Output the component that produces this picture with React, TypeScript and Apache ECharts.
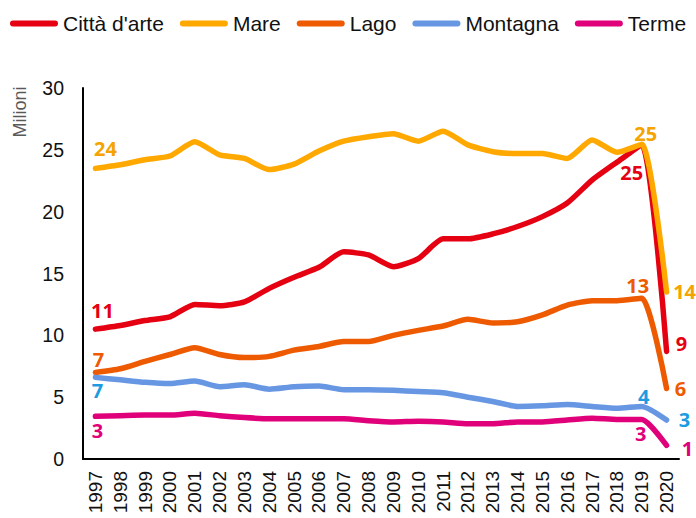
import React, { useEffect, useRef } from "react";
import * as echarts from "echarts";

const years = ["1997","1998","1999","2000","2001","2002","2003","2004","2005","2006","2007","2008","2009","2010","2011","2012","2013","2014","2015","2016","2017","2018","2019","2020"];

const cittaDArte = [10.5,10.8,11.2,11.5,12.5,12.4,12.7,13.8,14.7,15.5,16.75,16.5,15.55,16.2,17.8,17.8,18.2,18.8,19.6,20.7,22.55,24.0,25.4,8.7];
const mare = [23.5,23.8,24.2,24.5,25.65,24.6,24.3,23.4,23.85,24.9,25.7,26.06,26.3,25.7,26.5,25.4,24.85,24.7,24.7,24.3,25.8,24.8,25.45,13.5];
const lago = [7.0,7.3,7.9,8.45,9.0,8.45,8.2,8.3,8.8,9.1,9.5,9.5,10.0,10.4,10.75,11.3,11.0,11.1,11.65,12.45,12.8,12.8,13.0,5.7];
const montagna = [6.6,6.4,6.2,6.1,6.3,5.85,6.0,5.65,5.85,5.9,5.6,5.6,5.55,5.45,5.35,5.0,4.65,4.25,4.3,4.4,4.25,4.1,4.25,3.15];
const terme = [3.45,3.5,3.55,3.55,3.7,3.5,3.35,3.25,3.25,3.25,3.25,3.1,3.0,3.05,3.0,2.85,2.85,3.0,3.0,3.15,3.3,3.2,3.2,1.1];

const seriesNames = ["Città d'arte", "Mare", "Lago", "Montagna", "Terme"];
const seriesValues = [cittaDArte, mare, lago, montagna, terme];
const yTicks = [0, 5, 10, 15, 20, 25, 30];

const lineColors = ["#E50012", "#FFA800", "#EE5A00", "#6797E3", "#E0007A"];
const labelColors = ["#E50012", "#F5A300", "#EE5A00", "#1E9BE0", "#E0007A"];
// label center offsets from the point for indices 0, 22, 23
const labelOffsets: Record<number, [number, number]>[] = [
  { 0: [7, -19], 22: [-10, 28], 23: [15, -8] },
  { 0: [10, -20], 22: [4, -11], 23: [18, -1] },
  { 0: [3, -13], 22: [-4, -13], 23: [14, 0] },
  { 0: [2, 13], 22: [2, -10], 23: [18, -1] },
  { 0: [2, 14], 22: [-1, 14], 23: [21, 3] },
];

export default function App() {
  const ref = useRef<HTMLDivElement>(null);
  useEffect(() => {
    if (!ref.current) return;
    const chart = echarts.init(ref.current, undefined, { renderer: "svg" });
    const series = seriesNames.map((name, si) => ({
      name,
      type: "line",
      smooth: 0.2,
      symbol: "circle",
      symbolSize: 0,
      showSymbol: true,
      showAllSymbol: true,
      lineStyle: { color: lineColors[si], width: 5.5, cap: "round", join: "round" },
      itemStyle: { color: lineColors[si] },
      emphasis: { disabled: true },
      data: seriesValues[si].map((v, i) => {
        const off = labelOffsets[si][i];
        if (!off) return v;
        return {
          value: v,
          label: {
            show: true,
            position: "inside",
            offset: off,
            formatter: (p: any) => String(Math.round(p.value)),
            color: labelColors[si],
            fontFamily: "Open Sans",
            fontWeight: "bold",
            fontSize: 20,
          },
        };
      }),
    }));
    chart.setOption({
      animation: false,
      color: lineColors,
      legend: {
        left: 10,
        top: 13,
        padding: 0,
        itemWidth: 48,
        itemHeight: 6,
        itemGap: 16,
        icon: "path://M3,0 H45 A3,3 0 0 1 45,6 H3 A3,3 0 0 1 3,0 Z",
        textStyle: { fontFamily: "Liberation Sans", fontSize: 21, color: "#111" },
        data: seriesNames,
      },
      grid: { left: 83, right: 17, top: 88, bottom: 59, containLabel: false },
      xAxis: {
        type: "category",
        data: years,
        boundaryGap: true,
        axisLine: { show: true, lineStyle: { color: "#000", width: 2 } },
        axisTick: { show: false },
        axisLabel: {
          interval: 0,
          rotate: 90,
          margin: 12,
          fontFamily: "Liberation Sans",
          fontSize: 19,
          color: "#111",
        },
      },
      yAxis: {
        type: "value",
        min: yTicks[0],
        max: yTicks[yTicks.length - 1],
        interval: 5,
        axisLine: { show: true, lineStyle: { color: "#000", width: 2 } },
        axisTick: { show: false },
        splitLine: { show: false },
        axisLabel: {
          margin: 19,
          fontFamily: "Liberation Sans",
          fontSize: 19.5,
          color: "#111",
        },
      },
      graphic: [
        {
          type: "text",
          x: 20,
          y: 112,
          rotation: Math.PI / 2,
          style: {
            text: "Milioni",
            fontFamily: "Liberation Sans",
            fontSize: 18,
            fill: "#595959",
            align: "center",
            verticalAlign: "middle",
          },
        },
      ],
      series,
    });
    return () => chart.dispose();
  }, []);
  return <div ref={ref} style={{ width: 696, height: 518, position: "absolute", left: 0, top: 0 }} />;
}
